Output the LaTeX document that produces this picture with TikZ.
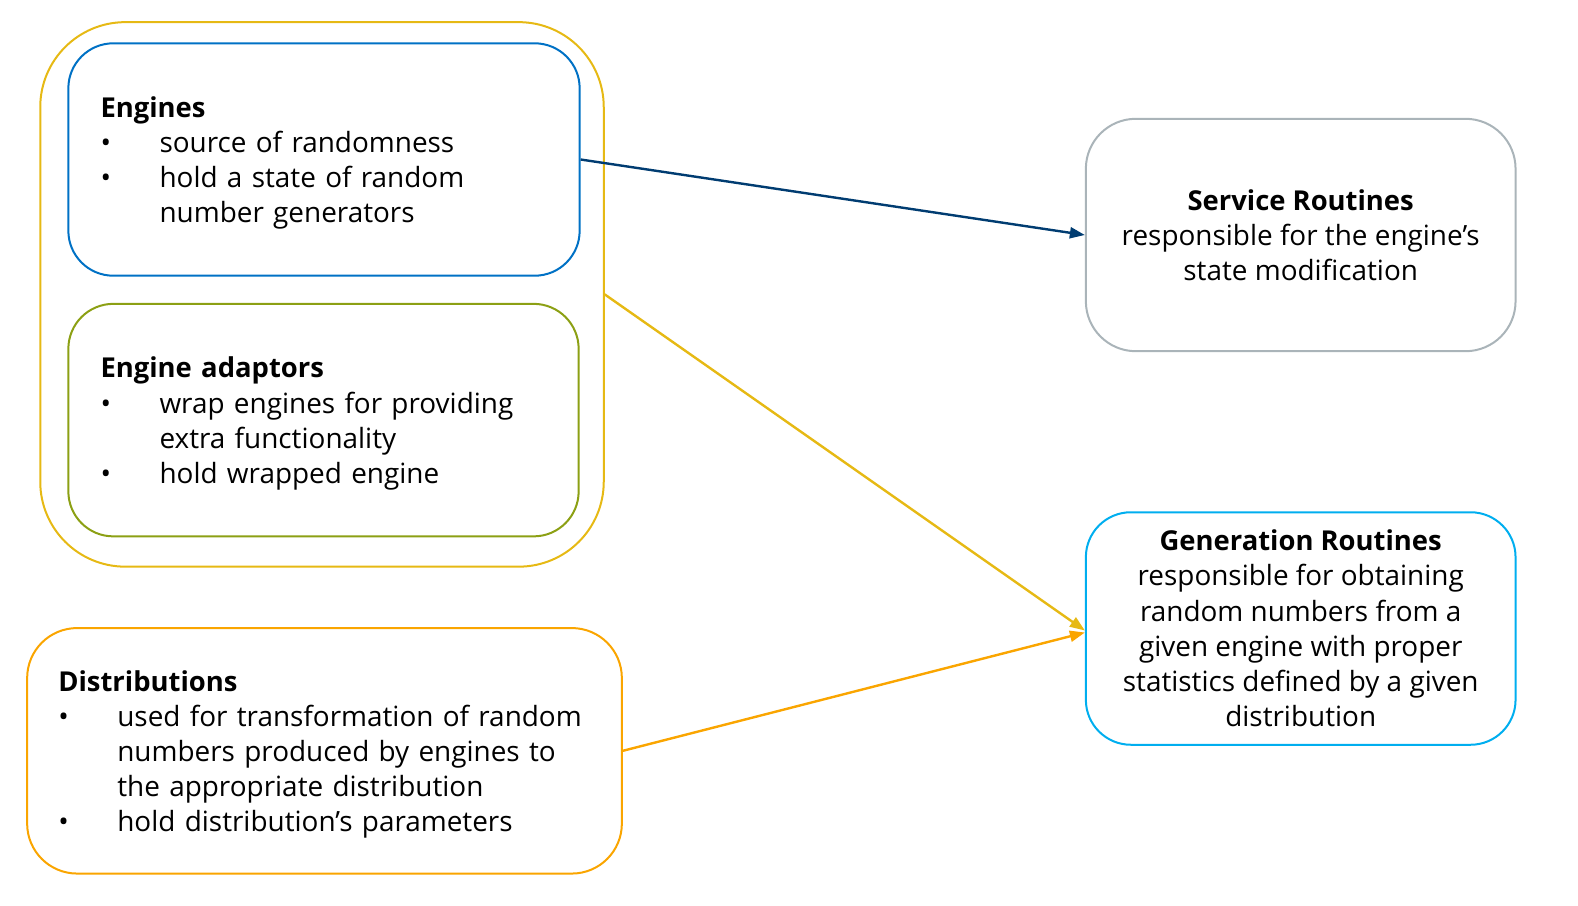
\documentclass[tikz,border=0pt]{standalone}
\usepackage{fontspec}
\setmainfont{Open Sans}
\usetikzlibrary{arrows.meta}
\definecolor{outery}{RGB}{230,185,20}
\definecolor{engblue}{RGB}{0,113,197}
\definecolor{adgreen}{RGB}{140,160,20}
\definecolor{distor}{RGB}{250,165,0}
\definecolor{servgray}{RGB}{170,180,185}
\definecolor{gencyan}{RGB}{0,174,239}
\definecolor{darkarrow}{RGB}{0,60,113}
\newcommand{\bl}[1]{\makebox[59pt][l]{\textbullet}#1}
\newcommand{\cont}[1]{\hspace*{59pt}#1}
\newcommand{\ttl}[1]{{\fontsize{27.4}{35.2}\selectfont\bfseries #1}}
\newcommand{\ltl}[1]{\rule{0pt}{28pt}\ttl{#1}}
\begin{document}
\begin{tikzpicture}[x=1pt,y=-1pt,
  box/.style={draw, line width=2pt, inner ysep=0pt, font=\fontsize{27.9}{35.2}\selectfont},
  listbox/.style={box, align=left, inner xsep=32pt},
  ctrbox/.style={box, align=center, inner xsep=0pt},
  conn/.style={line width=2.4pt, -{Triangle[length=15pt,width=11pt]}}]
\useasboundingbox (0,0) rectangle (1578,905);
\node[draw=outery, line width=2pt, rounded corners=85pt, minimum width=563.5pt, minimum height=544.5pt] (outer) at (322,294.4) {};
\node[listbox, draw=engblue, rounded corners=45pt, minimum width=511.3pt, minimum height=232.4pt, text width=446.9pt] (eng) at (324,159.5)
 {\ltl{Engines}\\ \bl{source of randomness}\\ \bl{hold a state of random}\\ \cont{number generators}};
\node[listbox, draw=adgreen, rounded corners=45pt, minimum width=510.3pt, minimum height=232.5pt, text width=445.9pt] (adapt) at (323.5,420.1)
 {\ltl{Engine adaptors}\\ \bl{wrap engines for providing}\\ \cont{extra functionality}\\ \bl{hold wrapped engine}};
\node[listbox, draw=distor, rounded corners=50pt, inner xsep=31.2pt, minimum width=594.7pt, minimum height=245.5pt, text width=532.3pt] (dist) at (324.5,750.8)
 {\ltl{Distributions}\\ \bl{used for transformation of random}\\ \cont{numbers produced by engines to}\\ \cont{the appropriate distribution}\\ \bl{hold distribution’s parameters}};
\node[ctrbox, draw=servgray, rounded corners=50pt, minimum width=429.7pt, minimum height=232.4pt] (serv) at (1300.7,235)
 {\ttl{Service Routines}\\ responsible for the engine’s\\ state modification};
\node[ctrbox, draw=gencyan, rounded corners=45pt, minimum width=429.7pt, minimum height=232.5pt] (gen) at (1300.7,628.5)
 {\ttl{Generation Routines}\\ responsible for obtaining\\ random numbers from a\\ given engine with proper\\ statistics defined by a given\\ distribution};
\draw[conn, darkarrow] (eng.east) -- (serv.west);
\draw[conn, outery] (outer.east) -- ([yshift=-2pt]gen.west);
\draw[conn, distor] (dist.east) -- ([yshift=-4pt]gen.west);
\end{tikzpicture}
\end{document}
